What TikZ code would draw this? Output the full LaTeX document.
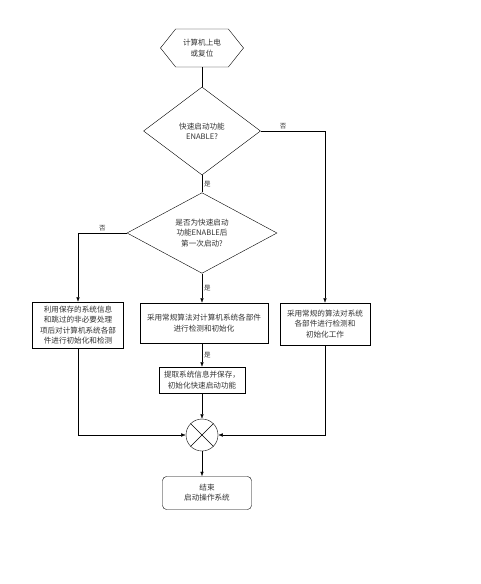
\documentclass[tikz,border=0pt]{standalone}
\usepackage{fontspec}
\newfontfamily\cjk{Noto Sans CJK SC}
\usetikzlibrary{arrows.meta,positioning,shapes.geometric,shapes.symbols}

\begin{document}
\begin{tikzpicture}[x=1pt, y=-1pt,
  font=\cjk\fontsize{7.6}{10.2}\selectfont,
  box/.style={draw, thin, align=center, inner sep=1.5pt, text=black!80},
  dec/.style={draw, thin, diamond, align=center, inner sep=0pt, text=black!80},
  a/.style={-{Latex[length=1.6mm, width=1.2mm]}, thin},
  ln/.style={thin},
  lbl/.style={font=\cjk\fontsize{6.5}{7}\selectfont, inner sep=2pt, text=black!80}]

\useasboundingbox[fill=white] (0,0) rectangle (480,584);

% ---------------- start and the two questions ----------------------------
\node[box, shape=signal, signal to=west and east, signal pointer angle=103,
      minimum width=83pt, minimum height=38pt] (start) at (202,48)
      {计算机上电\\或复位};
\node[dec, minimum width=117pt, minimum height=88pt] (q1) at (202,131)
      {快速启动功能\\ENABLE?};
\node[dec, minimum width=150pt, minimum height=74pt] (q2) at (202,233)
      {是否为快速启动\\功能ENABLE后\\第一次启动?};

\draw[ln] (start.south) -- (q1.north);
\draw[ln] (q1.south) -- node[lbl, right] {是} (q2.north);

% ---------------- the three tracks ---------------------------------------
\node[box, minimum width=91pt, minimum height=46pt] (fast) at (78,325)
      {利用保存的系统信息\\和跳过的非必要处理\\项后对计算机系统各部\\件进行初始化和检测};
\node[box, minimum width=128pt, minimum height=40pt] (first) at (204,323)
      {采用常规算法对计算机系统各部件\\进行检测和初始化};
\node[box, minimum width=90pt, minimum height=42pt] (norm) at (325,324)
      {采用常规的算法对系统\\各部件进行检测和\\初始化工作};
\node[box, minimum width=86pt, minimum height=26pt] (save) at (202,380)
      {提取系统信息并保存，\\初始化快速启动功能};

\coordinate (lturn) at (78,233);
\coordinate (rturn) at (325,131);
\draw[a] (q1.east) -- node[lbl, above, pos=0.35] {否} (rturn) -- (norm.north);
\draw[a] (q2.west) -- node[lbl, above] {否} (lturn) -- (fast.north);
\draw[a] (q2.south) -- node[lbl, right] {是} (first.north -| q2.south);
\draw[a] (first.south -| save.north) -- node[lbl, right] {是} (save.north);

% ---------------- the junction and the end -------------------------------
\node[draw, thin, circle, minimum size=32pt, inner sep=0pt] (j) at (202,435) {};
\draw[ln] (j.north west) -- (j.south east);
\draw[ln] (j.north east) -- (j.south west);

\node[box, rounded corners=4pt, minimum width=89pt, minimum height=33pt] (stop) at (207,493)
      {结束\\启动操作系统};

\draw[a] (save) -- (j);
\draw[a] (fast.south) |- (j.west);
\draw[a] (norm.south) |- (j.east);
\draw[a] (j.south) -- (stop.north -| j.south);
\end{tikzpicture}
\end{document}
